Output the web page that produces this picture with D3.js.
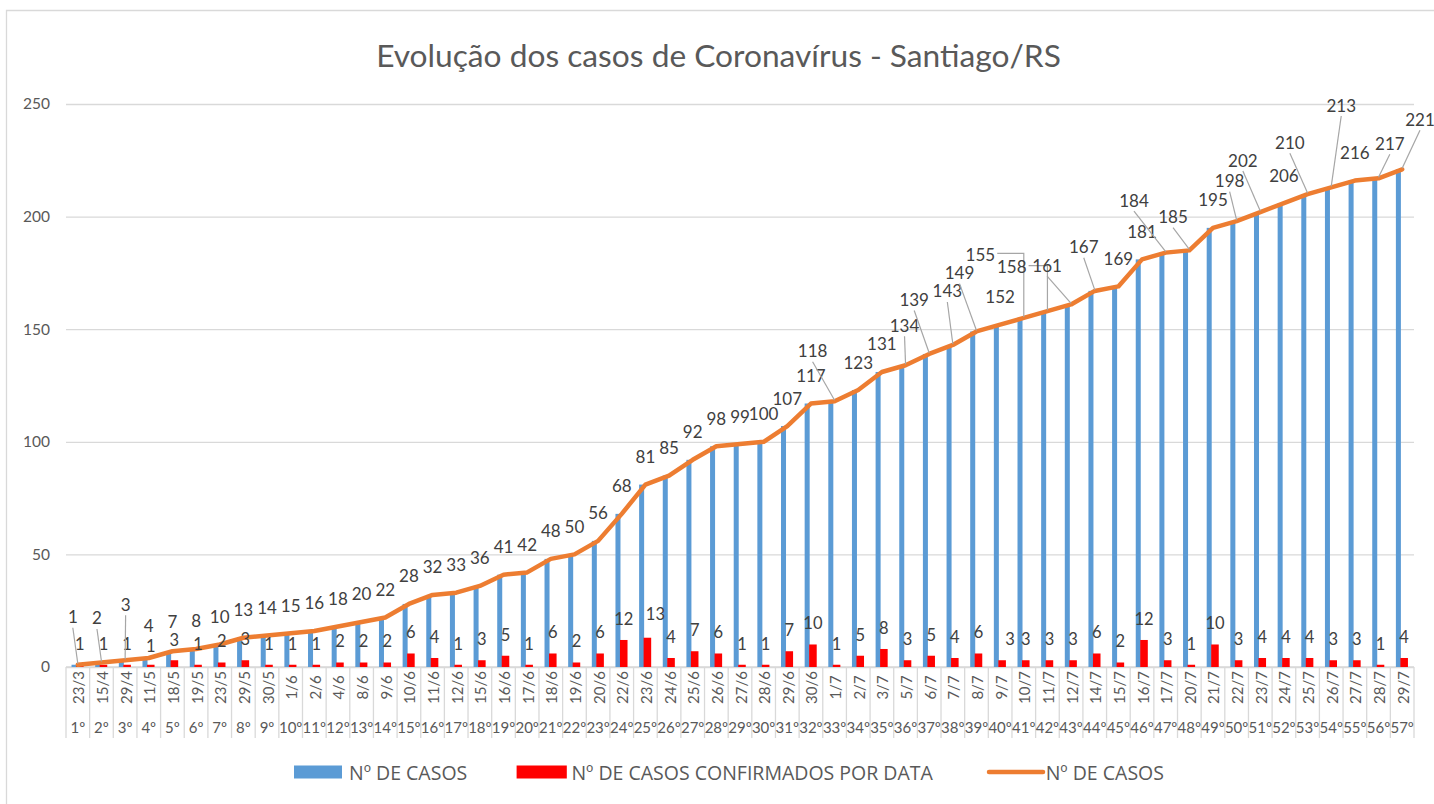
<!DOCTYPE html>
<html>
<head>
<meta charset="utf-8">
<script src="https://cdn.jsdelivr.net/npm/d3@7"></script>
<style>
  html, body { margin: 0; padding: 0; background: #fff; }
  svg { display: block; }
  text { font-family: Lato, "Open Sans", sans-serif; }
  text.leg { font-family: "Open Sans", "Noto Sans", sans-serif; }
</style>
</head>
<body>
<svg id="chart" width="1434" height="804"></svg>
<script>
// ---------------- DATA ----------------
const title = "Evolução dos casos de Coronavírus - Santiago/RS";
const dates = ["23/3","15/4","29/4","11/5","18/5","19/5","23/5","29/5","30/5","1/6","2/6","4/6","8/6","9/6","10/6","11/6","12/6","15/6","16/6","17/6","18/6","19/6","20/6","22/6","23/6","24/6","25/6","26/6","27/6","28/6","29/6","30/6","1/7","2/7","3/7","5/7","6/7","7/7","8/7","9/7","10/7","11/7","12/7","14/7","15/7","16/7","17/7","20/7","21/7","22/7","23/7","24/7","25/7","26/7","27/7","28/7","29/7"];
const ordinals = dates.map((d, i) => (i + 1) + "º");
const totalCases = [1,2,3,4,7,8,10,13,14,15,16,18,20,22,28,32,33,36,41,42,48,50,56,68,81,85,92,98,99,100,107,117,118,123,131,134,139,143,149,152,155,158,161,167,169,181,184,185,195,198,202,206,210,213,216,217,221];
const dailyCases = [1,1,1,1,3,1,2,3,1,1,1,2,2,2,6,4,1,3,5,1,6,2,6,12,13,4,7,6,1,1,7,10,1,5,8,3,5,4,6,3,3,3,3,6,2,12,3,1,10,3,4,4,4,3,3,1,4];
const yTicks = [0, 50, 100, 150, 200, 250];
const seriesNames = ["Nº DE CASOS", "Nº DE CASOS CONFIRMADOS POR DATA", "Nº DE CASOS"];

// ---------------- LAYOUT / STYLE ----------------
const W = 1434, H = 804;
const plot = { left: 66, right: 1414, top: 104, bottom: 667 };
const colors = { blue: "#5B9BD5", red: "#FF0000", orange: "#ED7D31", grid: "#D9D9D9", text: "#595959", label: "#404040", leader: "#A6A6A6" };
// label placement tweaks (pixel offsets of label centre from the line point; "elbow" leaders)
const cumLabelTweaks = {
  0: { dx: -5, dy: -48 }, 1: { dx: -4.5, dy: -44.5 }, 2: { dx: 0.5, dy: -56 },
  3: { dx: 0, dy: -32.5 }, 4: { dx: 0, dy: -30 },
  32: { dx: -22, dy: -50.5 }, 35: { dx: -1, dy: -40 }, 36: { dx: -15, dy: -54.5 },
  37: { dx: -5.5, dy: -54 }, 38: { dx: -17, dy: -58.8 }, 40: { dx: -43.4, dy: -63.6, elbow: true },
  41: { dx: -35.7, dy: -44.5, elbow: true }, 42: { dx: -24, dy: -39.4 }, 43: { dx: -11, dy: -44.2 },
  46: { dx: -31.7, dy: -52.6 }, 47: { dx: -16.3, dy: -33.7 }, 49: { dx: -7, dy: -40.4 },
  50: { dx: -17.4, dy: -52 }, 52: { dx: -17.7, dy: -51.8 }, 53: { dx: 10, dy: -82.3 },
  55: { dx: 11.3, dy: -35 }, 56: { dx: 17.8, dy: -50 }
};
const noLeader = { 3: true, 4: true };
const dailyLabelTweaks = { 3: { dx: 0, dy: 2 }, 4: { dx: 0, dy: 1 }, 24: { dx: 8, dy: -3 }, 39: { dx: 8, dy: 0 } };

const svg = d3.select("#chart");

// chart border (left & top visible)
svg.append("path")
  .attr("d", `M6.5,${H} V10.5 H${W}`)
  .attr("fill", "none").attr("stroke", colors.grid).attr("stroke-width", 1.3);

// title
const titleText = svg.append("text")
  .attr("x", 718.5).attr("y", 54.5)
  .attr("text-anchor", "middle").attr("dominant-baseline", "central")
  .attr("fill", colors.text)
  .style("font-size", "30px").text(title);
(function fit() {
  const w = titleText.node().getComputedTextLength();
  titleText.style("font-size", (30 * 685 / w) + "px");
})();

// scales
const x = d3.scaleBand().domain(d3.range(dates.length)).range([plot.left, plot.right]).padding(0);
const bw = x.bandwidth();
const cx = i => x(i) + bw / 2;
const y = d3.scaleLinear().domain([0, 250]).range([plot.bottom, plot.top]);

// y axis with gridlines
const yAxis = d3.axisLeft(y).tickValues(yTicks).tickSize(-(plot.right - plot.left)).tickPadding(16);
const gy = svg.append("g").attr("transform", `translate(${plot.left},0)`).call(yAxis);
gy.select(".domain").remove();
gy.selectAll(".tick line").attr("stroke", colors.grid).attr("stroke-width", 1.3);
gy.selectAll(".tick text").attr("fill", colors.text).style("font-size", "15.5px").style("font-family", "Lato, sans-serif");

// category axis (two levels)
const gx = svg.append("g");
gx.append("line").attr("x1", plot.left).attr("x2", plot.right).attr("y1", plot.bottom).attr("y2", plot.bottom)
  .attr("stroke", colors.grid).attr("stroke-width", 1.3);
gx.selectAll("line.sep").data(d3.range(dates.length + 1)).join("line").attr("class", "sep")
  .attr("x1", i => plot.left + i * bw).attr("x2", i => plot.left + i * bw)
  .attr("y1", plot.bottom).attr("y2", 738)
  .attr("stroke", colors.grid).attr("stroke-width", 1.3);
gx.selectAll("text.date").data(dates).join("text").attr("class", "date")
  .attr("transform", (d, i) => `translate(${cx(i) + 0.5},687.5) rotate(-90)`)
  .attr("text-anchor", "middle").attr("dominant-baseline", "central")
  .attr("fill", colors.text).style("font-size", "15px").text(d => d);
gx.selectAll("text.ord").data(ordinals).join("text").attr("class", "ord")
  .attr("x", (d, i) => cx(i)).attr("y", 727)
  .attr("text-anchor", "middle").attr("dominant-baseline", "central")
  .attr("fill", colors.text).style("font-size", "15px").text(d => d);

// bars
svg.append("g").selectAll("rect").data(totalCases).join("rect")
  .attr("x", (d, i) => cx(i) - 0.266 * bw).attr("width", 0.212 * bw)
  .attr("y", d => y(d)).attr("height", d => y(0) - y(d))
  .attr("fill", colors.blue);
svg.append("g").selectAll("rect").data(dailyCases).join("rect")
  .attr("x", (d, i) => cx(i) - 0.076 * bw).attr("width", 0.32 * bw)
  .attr("y", d => y(d)).attr("height", d => y(0) - y(d))
  .attr("fill", colors.red);

// line
svg.append("path").datum(totalCases)
  .attr("d", d3.line().x((d, i) => cx(i)).y(d => y(d)))
  .attr("fill", "none").attr("stroke", colors.orange).attr("stroke-width", 4.5)
  .attr("stroke-linejoin", "round").attr("stroke-linecap", "round");

// daily labels
const redC = i => cx(i) - 0.076 * bw + 0.16 * bw;
svg.append("g").selectAll("text").data(dailyCases).join("text")
  .attr("x", (d, i) => redC(i) + ((dailyLabelTweaks[i] || {}).dx || 0))
  .attr("y", (d, i) => y(d) - 21 + ((dailyLabelTweaks[i] || {}).dy || 0))
  .attr("text-anchor", "middle").attr("dominant-baseline", "central")
  .attr("fill", colors.label).style("font-size", "16.5px").text(d => d);

// cumulative labels with leader lines
const gl = svg.append("g");
totalCases.forEach((v, i) => {
  const px = cx(i), py = y(v);
  const t = cumLabelTweaks[i];
  const lx = px + (t ? t.dx : 0), ly = py + (t ? t.dy : -28);
  if (t && !noLeader[i]) {
    let d;
    if (t.elbow) {
      const half = (String(v).length * 9.9) / 2;
      d = `M${lx + half + 2},${ly - 1} H${px} V${py - 1}`;
    } else {
      d = `M${lx},${ly + 11} L${px},${py - 1}`;
    }
    gl.append("path").attr("d", d).attr("fill", "none").attr("stroke", colors.leader).attr("stroke-width", 1.2);
  }
  gl.append("text").attr("x", lx).attr("y", ly)
    .attr("text-anchor", "middle").attr("dominant-baseline", "central")
    .attr("fill", colors.label).style("font-size", "17px").text(v);
});

// legend
const lg = svg.append("g");
const legendItems = [
  { name: seriesNames[0], type: "rect", color: colors.blue, x0: 294, x1: 342, tx: 349 },
  { name: seriesNames[1], type: "rect", color: colors.red, x0: 516.6, x1: 566.8, tx: 571.4 },
  { name: seriesNames[2], type: "line", color: colors.orange, x0: 989, x1: 1043, tx: 1045.7 }
];
const ly0 = 772;
const legendTexts = [];
legendItems.forEach(it => {
  if (it.type === "rect") {
    lg.append("rect").attr("x", it.x0).attr("y", ly0 - 6.5).attr("width", it.x1 - it.x0).attr("height", 13).attr("fill", it.color);
  } else {
    lg.append("line").attr("x1", it.x0).attr("x2", it.x1).attr("y1", ly0).attr("y2", ly0)
      .attr("stroke", it.color).attr("stroke-width", 4.5).attr("stroke-linecap", "round");
  }
  legendTexts.push(lg.append("text").attr("class", "leg").attr("x", it.tx).attr("y", ly0).attr("dominant-baseline", "central")
    .attr("fill", colors.text).style("font-size", "17px").text(it.name));
});
(function fitLegend() {
  const w = legendTexts[1].node().getComputedTextLength();
  const fs = Math.min(19.5, 17 * 371 / w);
  legendTexts.forEach(t => t.style("font-size", fs + "px"));
})();
</script>
</body>
</html>
